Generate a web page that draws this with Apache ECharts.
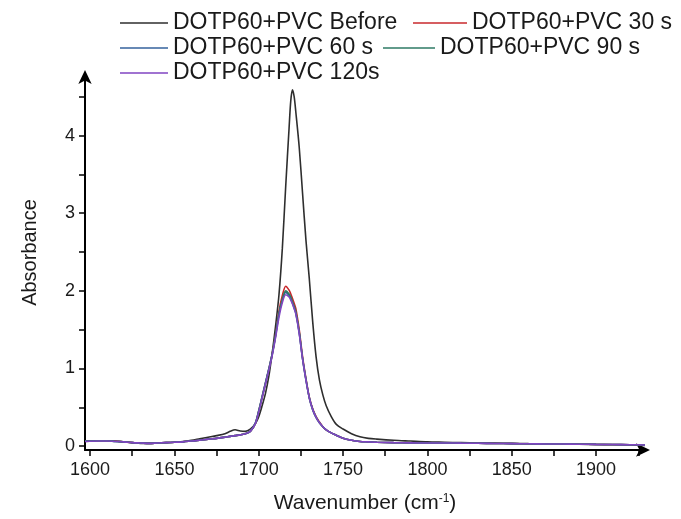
<!DOCTYPE html>
<html>
<head>
<meta charset="utf-8">
<script src="https://cdn.jsdelivr.net/npm/echarts@6/dist/echarts.min.js"></script>
<style>
html,body{margin:0;padding:0;background:#fff;}
#chart{width:681px;height:519px;}
</style>
</head>
<body>
<div id="chart"></div>
<script>
// Wavenumber grid (cm-1)
const wavenumbers = [1597,1605,1610,1615,1620,1625,1630,1635,1640,1645,
  1650,1655,1660,1665,1670,1675,1680,1683,1686,1689,
  1692,1695,1698,1700,1702,1704,1706,1708,1710,1712,
  1714,1716,1718,1719,1720,1721,1722,1724,1726,1728,
  1730,1732,1734,1736,1738,1740,1743,1746,1750,1755,
  1760,1765,1770,1780,1790,1800,1810,1820,1830,1840,
  1850,1860,1870,1880,1890,1900,1910,1920,1929];

const before = [0.06,0.07,0.07,0.065,0.055,0.045,0.035,0.035,0.04,0.045,
  0.05,0.06,0.075,0.095,0.115,0.135,0.16,0.19,0.21,0.195,
  0.19,0.22,0.29,0.38,0.52,0.68,0.90,1.20,1.55,1.95,
  2.55,3.35,4.10,4.45,4.59,4.50,4.30,3.85,3.25,2.65,
  2.15,1.60,1.15,0.85,0.66,0.52,0.38,0.28,0.22,0.16,
  0.12,0.10,0.09,0.075,0.065,0.055,0.05,0.045,0.04,0.038,
  0.035,0.032,0.03,0.028,0.025,0.02,0.018,0.015,0.01];

const s30 = [0.065,0.07,0.07,0.065,0.055,0.045,0.04,0.035,0.04,0.045,
  0.05,0.055,0.065,0.075,0.09,0.10,0.115,0.125,0.135,0.145,
  0.16,0.19,0.29,0.45,0.63,0.81,0.99,1.19,1.44,1.74,
  1.94,2.06,2.01,1.96,1.90,1.84,1.77,1.50,1.15,0.87,
  0.63,0.48,0.38,0.31,0.25,0.21,0.17,0.14,0.10,0.075,
  0.06,0.055,0.05,0.045,0.042,0.04,0.04,0.038,0.036,0.034,
  0.032,0.03,0.028,0.027,0.025,0.022,0.02,0.018,0.015];

const s60 = [0.065,0.07,0.07,0.06,0.055,0.045,0.04,0.035,0.04,0.045,
  0.05,0.055,0.065,0.075,0.09,0.10,0.115,0.125,0.135,0.145,
  0.16,0.19,0.30,0.46,0.64,0.82,1.00,1.19,1.43,1.71,
  1.88,1.98,1.94,1.90,1.84,1.78,1.71,1.46,1.12,0.85,
  0.62,0.47,0.37,0.30,0.25,0.21,0.17,0.14,0.10,0.075,
  0.06,0.055,0.05,0.045,0.042,0.04,0.04,0.038,0.036,0.034,
  0.032,0.03,0.028,0.027,0.025,0.022,0.02,0.018,0.015];

const s90 = [0.065,0.07,0.07,0.06,0.055,0.045,0.04,0.035,0.04,0.045,
  0.05,0.055,0.065,0.075,0.09,0.10,0.115,0.125,0.135,0.145,
  0.16,0.19,0.29,0.45,0.63,0.81,0.99,1.18,1.42,1.70,
  1.89,2.00,1.96,1.92,1.86,1.80,1.73,1.47,1.13,0.86,
  0.62,0.47,0.37,0.30,0.25,0.21,0.17,0.14,0.10,0.075,
  0.06,0.055,0.05,0.045,0.042,0.04,0.04,0.038,0.036,0.034,
  0.032,0.03,0.028,0.027,0.025,0.022,0.02,0.018,0.015];

const s120 = [0.06,0.065,0.065,0.06,0.055,0.045,0.04,0.035,0.04,0.045,
  0.05,0.055,0.065,0.075,0.09,0.10,0.115,0.125,0.135,0.145,
  0.16,0.19,0.29,0.44,0.62,0.80,0.98,1.17,1.40,1.66,
  1.85,1.95,1.92,1.88,1.83,1.77,1.70,1.45,1.12,0.85,
  0.62,0.47,0.37,0.30,0.25,0.21,0.17,0.14,0.10,0.075,
  0.06,0.055,0.05,0.045,0.042,0.04,0.04,0.038,0.036,0.034,
  0.032,0.03,0.028,0.027,0.025,0.022,0.02,0.018,0.015];

const seriesNames = ['DOTP60+PVC Before','DOTP60+PVC 30 s','DOTP60+PVC 60 s','DOTP60+PVC 90 s','DOTP60+PVC 120s'];
const seriesColors = ['#2e2e2e','#c8282c','#35629c','#2e7a64','#8045c2'];
const seriesValues = [before, s30, s60, s90, s120];

const xTickValues = [1600,1625,1650,1675,1700,1725,1750,1775,1800,1825,1850,1875,1900,1925];
const xLabelValues = [1600,1650,1700,1750,1800,1850,1900];
const yTickValues = [0,0.5,1,1.5,2,2.5,3,3.5,4,4.5];
const yLabelValues = [0,1,2,3,4];

const FONT = '"Liberation Sans", Arial, sans-serif';
const TXT = '#1a1a1a';

const chart = echarts.init(document.getElementById('chart'), null, {renderer:'canvas'});

const series = seriesNames.map((name, i) => ({
  name: name,
  type: 'line',
  smooth: 0.3,
  symbol: 'none',
  showSymbol: false,
  lineStyle: {color: seriesColors[i], width: 1.6},
  itemStyle: {color: seriesColors[i]},
  data: wavenumbers.map((w, k) => [w, seriesValues[i][k]])
}));

function mkLegend(idx, left, top, w) {
  return {
    data: [{name: seriesNames[idx], icon: 'rect'}],
    left: left, top: top,
    padding: 0,
    itemWidth: w, itemHeight: 1.6,
    itemGap: 0,
    selectedMode: false,
    textStyle: {fontFamily: FONT, fontSize: 23, color: TXT, lineHeight: 24, padding: [0,0,0,0]}
  };
}

const option = {
  animation: false,
  backgroundColor: '#ffffff',
  legend: [
    mkLegend(0, 120, 11, 48),
    mkLegend(1, 413, 11, 54),
    mkLegend(2, 120, 36, 48),
    mkLegend(3, 383, 36, 52),
    mkLegend(4, 120, 61, 48)
  ],
  grid: {left: 85, right: 36, top: 75, bottom: 62, containLabel: false},
  xAxis: {
    type: 'value',
    min: 1597, max: 1929,
    name: 'Wavenumber (cm{sup|-1})',
    nameLocation: 'middle',
    nameGap: 43,
    nameTextStyle: {fontFamily: FONT, fontSize: 21, color: TXT,
      rich: {sup: {fontFamily: FONT, fontSize: 12, color: TXT, verticalAlign: 'top', padding: [0,0,8,0]}}},
    axisLine: {show: true, onZero: false, symbol: ['none','arrow'], symbolSize: [10, 14], symbolOffset: [0, 5],
      lineStyle: {color: '#000', width: 2}},
    axisTick: {show: true, inside: false, length: 6, customValues: xTickValues, lineStyle: {color: '#000', width: 1.5}},
    axisLabel: {show: true, customValues: xLabelValues, formatter: v => String(v), fontFamily: FONT, fontSize: 18, color: TXT, margin: 11},
    splitLine: {show: false}
  },
  yAxis: {
    type: 'value',
    min: -0.05, max: 4.78,
    name: 'Absorbance',
    nameLocation: 'middle',
    nameGap: 45,
    nameRotate: 90,
    nameTextStyle: {fontFamily: FONT, fontSize: 20, color: TXT, padding: [0,0,0,20]},
    axisLine: {show: true, onZero: false, symbol: ['none','arrow'], symbolSize: [10, 14], symbolOffset: [0, 5],
      lineStyle: {color: '#000', width: 2}},
    axisTick: {show: true, inside: false, length: 6, customValues: yTickValues, lineStyle: {color: '#000', width: 1.5}},
    axisLabel: {show: true, customValues: yLabelValues, formatter: v => String(v), fontFamily: FONT, fontSize: 18, color: TXT, margin: 10},
    splitLine: {show: false}
  },
  series: series
};
chart.setOption(option);
</script>
</body>
</html>
